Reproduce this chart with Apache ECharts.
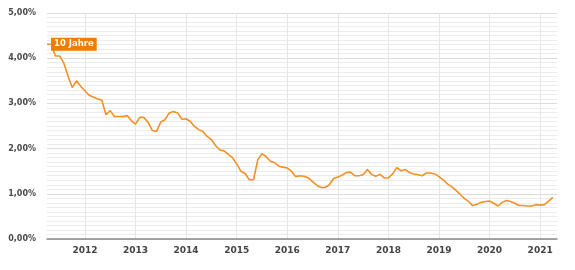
<!DOCTYPE html>
<html>
<head>
<meta charset="utf-8">
<script src="https://cdn.jsdelivr.net/npm/echarts@6/dist/echarts.min.js"></script>
<style>html,body{margin:0;padding:0;background:#fff}#c{width:575px;height:270px}</style>
</head>
<body>
<div id="c"></div>
<script>
// Monthly categories Apr 2011 .. May 2021
const startYear = 2011, startMonth = 4, monthCount = 122;
const months = [];
for (let i = 0; i < monthCount; i++) {
  const m = startMonth - 1 + i;
  const y = startYear + Math.floor(m / 12);
  const mm = (m % 12) + 1;
  months.push(y + '-' + (mm < 10 ? '0' + mm : '' + mm));
}
const seriesName = '10 Jahre';
const yields = [
  4.31, 4.31, 4.05, 4.05, 3.89, 3.60, 3.35, 3.50, 3.38, 3.28,
  3.18, 3.14, 3.10, 3.07, 2.75, 2.84, 2.71, 2.71, 2.71, 2.73,
  2.62, 2.54, 2.69, 2.69, 2.58, 2.40, 2.38, 2.59, 2.64, 2.79,
  2.82, 2.79, 2.65, 2.66, 2.60, 2.49, 2.42, 2.38, 2.27, 2.20,
  2.07, 1.97, 1.95, 1.87, 1.80, 1.66, 1.50, 1.45, 1.31, 1.31,
  1.75, 1.89, 1.82, 1.72, 1.69, 1.61, 1.59, 1.57, 1.50, 1.38,
  1.40, 1.39, 1.35, 1.27, 1.19, 1.14, 1.14, 1.20, 1.34, 1.37,
  1.41, 1.47, 1.48, 1.40, 1.40, 1.42, 1.54, 1.43, 1.39, 1.43,
  1.35, 1.35, 1.44, 1.58, 1.51, 1.54, 1.47, 1.44, 1.42, 1.40,
  1.46, 1.46, 1.44, 1.38, 1.31, 1.22, 1.16, 1.08, 0.99, 0.90,
  0.83, 0.74, 0.77, 0.81, 0.83, 0.84, 0.79, 0.73, 0.81, 0.85,
  0.83, 0.79, 0.74, 0.74, 0.73, 0.73, 0.76, 0.75, 0.76, 0.84,
  0.92
];
const yMin = 0, yMax = 5, yStep = 1;

const isJan = (idx, val) => String(val).slice(5) === '01';

const chart = echarts.init(document.getElementById('c'), null, {renderer: 'canvas'});
chart.setOption({
  animation: false,
  grid: {left: 47, right: 18, top: 13, bottom: 31, containLabel: false},
  xAxis: {
    type: 'category', data: months, boundaryGap: false,
    axisLine: {show: true, lineStyle: {color: '#8a8a8a', width: 1.5}},
    axisTick: {show: false},
    axisLabel: {
      interval: isJan,
      formatter: v => v.slice(0, 4),
      color: '#444', fontFamily: 'DejaVu Sans', fontWeight: 'bold', fontSize: 9, margin: 7
    },
    splitLine: {show: true, interval: isJan, lineStyle: {color: '#e6e6e6', width: 1}}
  },
  yAxis: {
    type: 'value', min: yMin, max: yMax, interval: yStep,
    axisLine: {show: false}, axisTick: {show: false},
    axisLabel: {
      formatter: v => v.toFixed(2).replace('.', ',') + '%',
      color: '#4a4a4a', fontFamily: 'DejaVu Sans', fontWeight: 'bold', fontSize: 8, margin: 11
    },
    splitLine: {show: true, lineStyle: {color: '#dcdcdc', width: 1}},
    minorTick: {show: false, splitNumber: 10},
    minorSplitLine: {show: true, lineStyle: {color: '#ececec', width: 1}}
  },
  series: [{
    name: seriesName, type: 'line', data: yields,
    symbol: 'none', showSymbol: false,
    lineStyle: {color: '#f39026', width: 1.6},
    itemStyle: {color: '#f39026'},
    markPoint: {
      silent: true,
      symbol: 'circle', symbolSize: 2,
      itemStyle: {color: 'rgba(0,0,0,0)'},
      label: {
        show: true, position: 'right', distance: 3,
        formatter: seriesName,
        backgroundColor: '#ef7d00', color: '#fff',
        fontFamily: 'DejaVu Sans', fontWeight: 'bold', fontSize: 8.5,
        padding: [2, 3, 1, 3], lineHeight: 10
      },
      data: [{coord: [months[0], yields[0]]}]
    }
  }]
});
</script>
</body>
</html>
